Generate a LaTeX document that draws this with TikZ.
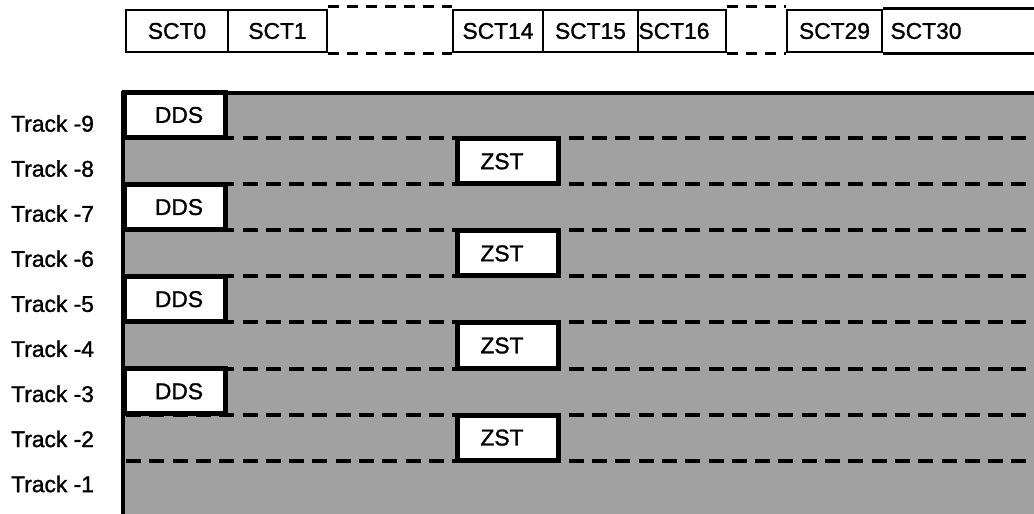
\documentclass[tikz,border=0pt]{standalone}
\usepackage{fontspec}
\setmainfont{Liberation Sans}
\newfontface\heavy{Liberation Sans}[FakeBold=1.2]
\definecolor{bg}{gray}{0.63}
\begin{document}
\begin{tikzpicture}[x=1bp,y=-1bp,
  txt/.style={font=\heavy\fontsize{22.8bp}{26bp}\selectfont, inner sep=0pt},
  sct/.style={txt, draw, line width=2.8bp, minimum height=42bp},
  cell/.style={txt, draw, fill=white, line width=5bp, minimum width=101bp, minimum height=45bp},
  topdash/.style={line width=3bp, dash pattern=on 11bp off 8bp},
  rowdash/.style={line width=4bp, dash pattern=on 15bp off 8.3bp},
  edge/.style={line width=3.5bp}]
\useasboundingbox (0,0) rectangle (1034,514);
\begin{scope}
\clip (0,0) rectangle (1034,514);
% background area
\fill[bg] (123,93) rectangle (1040,520);
% track boundaries
\foreach \k in {0,...,7}{
  \draw[rowdash] (126,{138.3+46.05*\k}) -- (1040,{138.3+46.05*\k});
}
\draw[edge] (123,520) -- (123,93) -- (1040,93);
% DDS cells
\foreach \k/\n in {0/a,1/b,2/c,3/d}{
  \node[cell] (dds\n) at (175,{115+92.1*\k}) {\hspace*{8bp}DDS};
}
% ZST cells
\foreach \k/\n in {0/a,1/b,2/c,3/d}{
  \node[cell] (zst\n) at (508,{161.3+92.1*\k}) {ZST\hspace*{12bp}};
}
% track labels
\foreach \k/\t in {0/9,1/8,2/7,3/6,4/5,5/4,6/3,7/2,8/1}{
  \node[txt, anchor=west] (tr\t) at (11,{123.5+45.06*\k}) {Track -\t};
}
% sector row
\node[sct, minimum width=102bp] (s0) at (177,31) {SCT0};
\node[sct, minimum width=99bp] (s1) at (277.5,31) {SCT1};
\node[sct, minimum width=90bp] (s14) at (498,31) {SCT14};
\node[sct, minimum width=95bp] (s15) at (590.5,31) {SCT15};
\node[sct, minimum width=88bp] (s16) at (682,31) {SCT16\hspace*{16bp}};
\node[sct, minimum width=95bp] (s29) at (834.5,31) {SCT29};
\node[txt] (s30) at (926,31) {SCT30};
\draw[line width=2.8bp] (s29.north east) -- ++(220,0);
\draw[line width=2.8bp] (s29.south east) -- ++(220,0);
\draw[topdash] ([yshift=2bp]s1.north east) -- ([yshift=2bp]s14.north west);
\draw[topdash] (s1.south east) -- (s14.south west);
\draw[topdash] ([yshift=2bp]s16.north east) -- ([yshift=2bp]s29.north west);
\draw[topdash] (s16.south east) -- (s29.south west);
\end{scope}
\end{tikzpicture}
\end{document}
